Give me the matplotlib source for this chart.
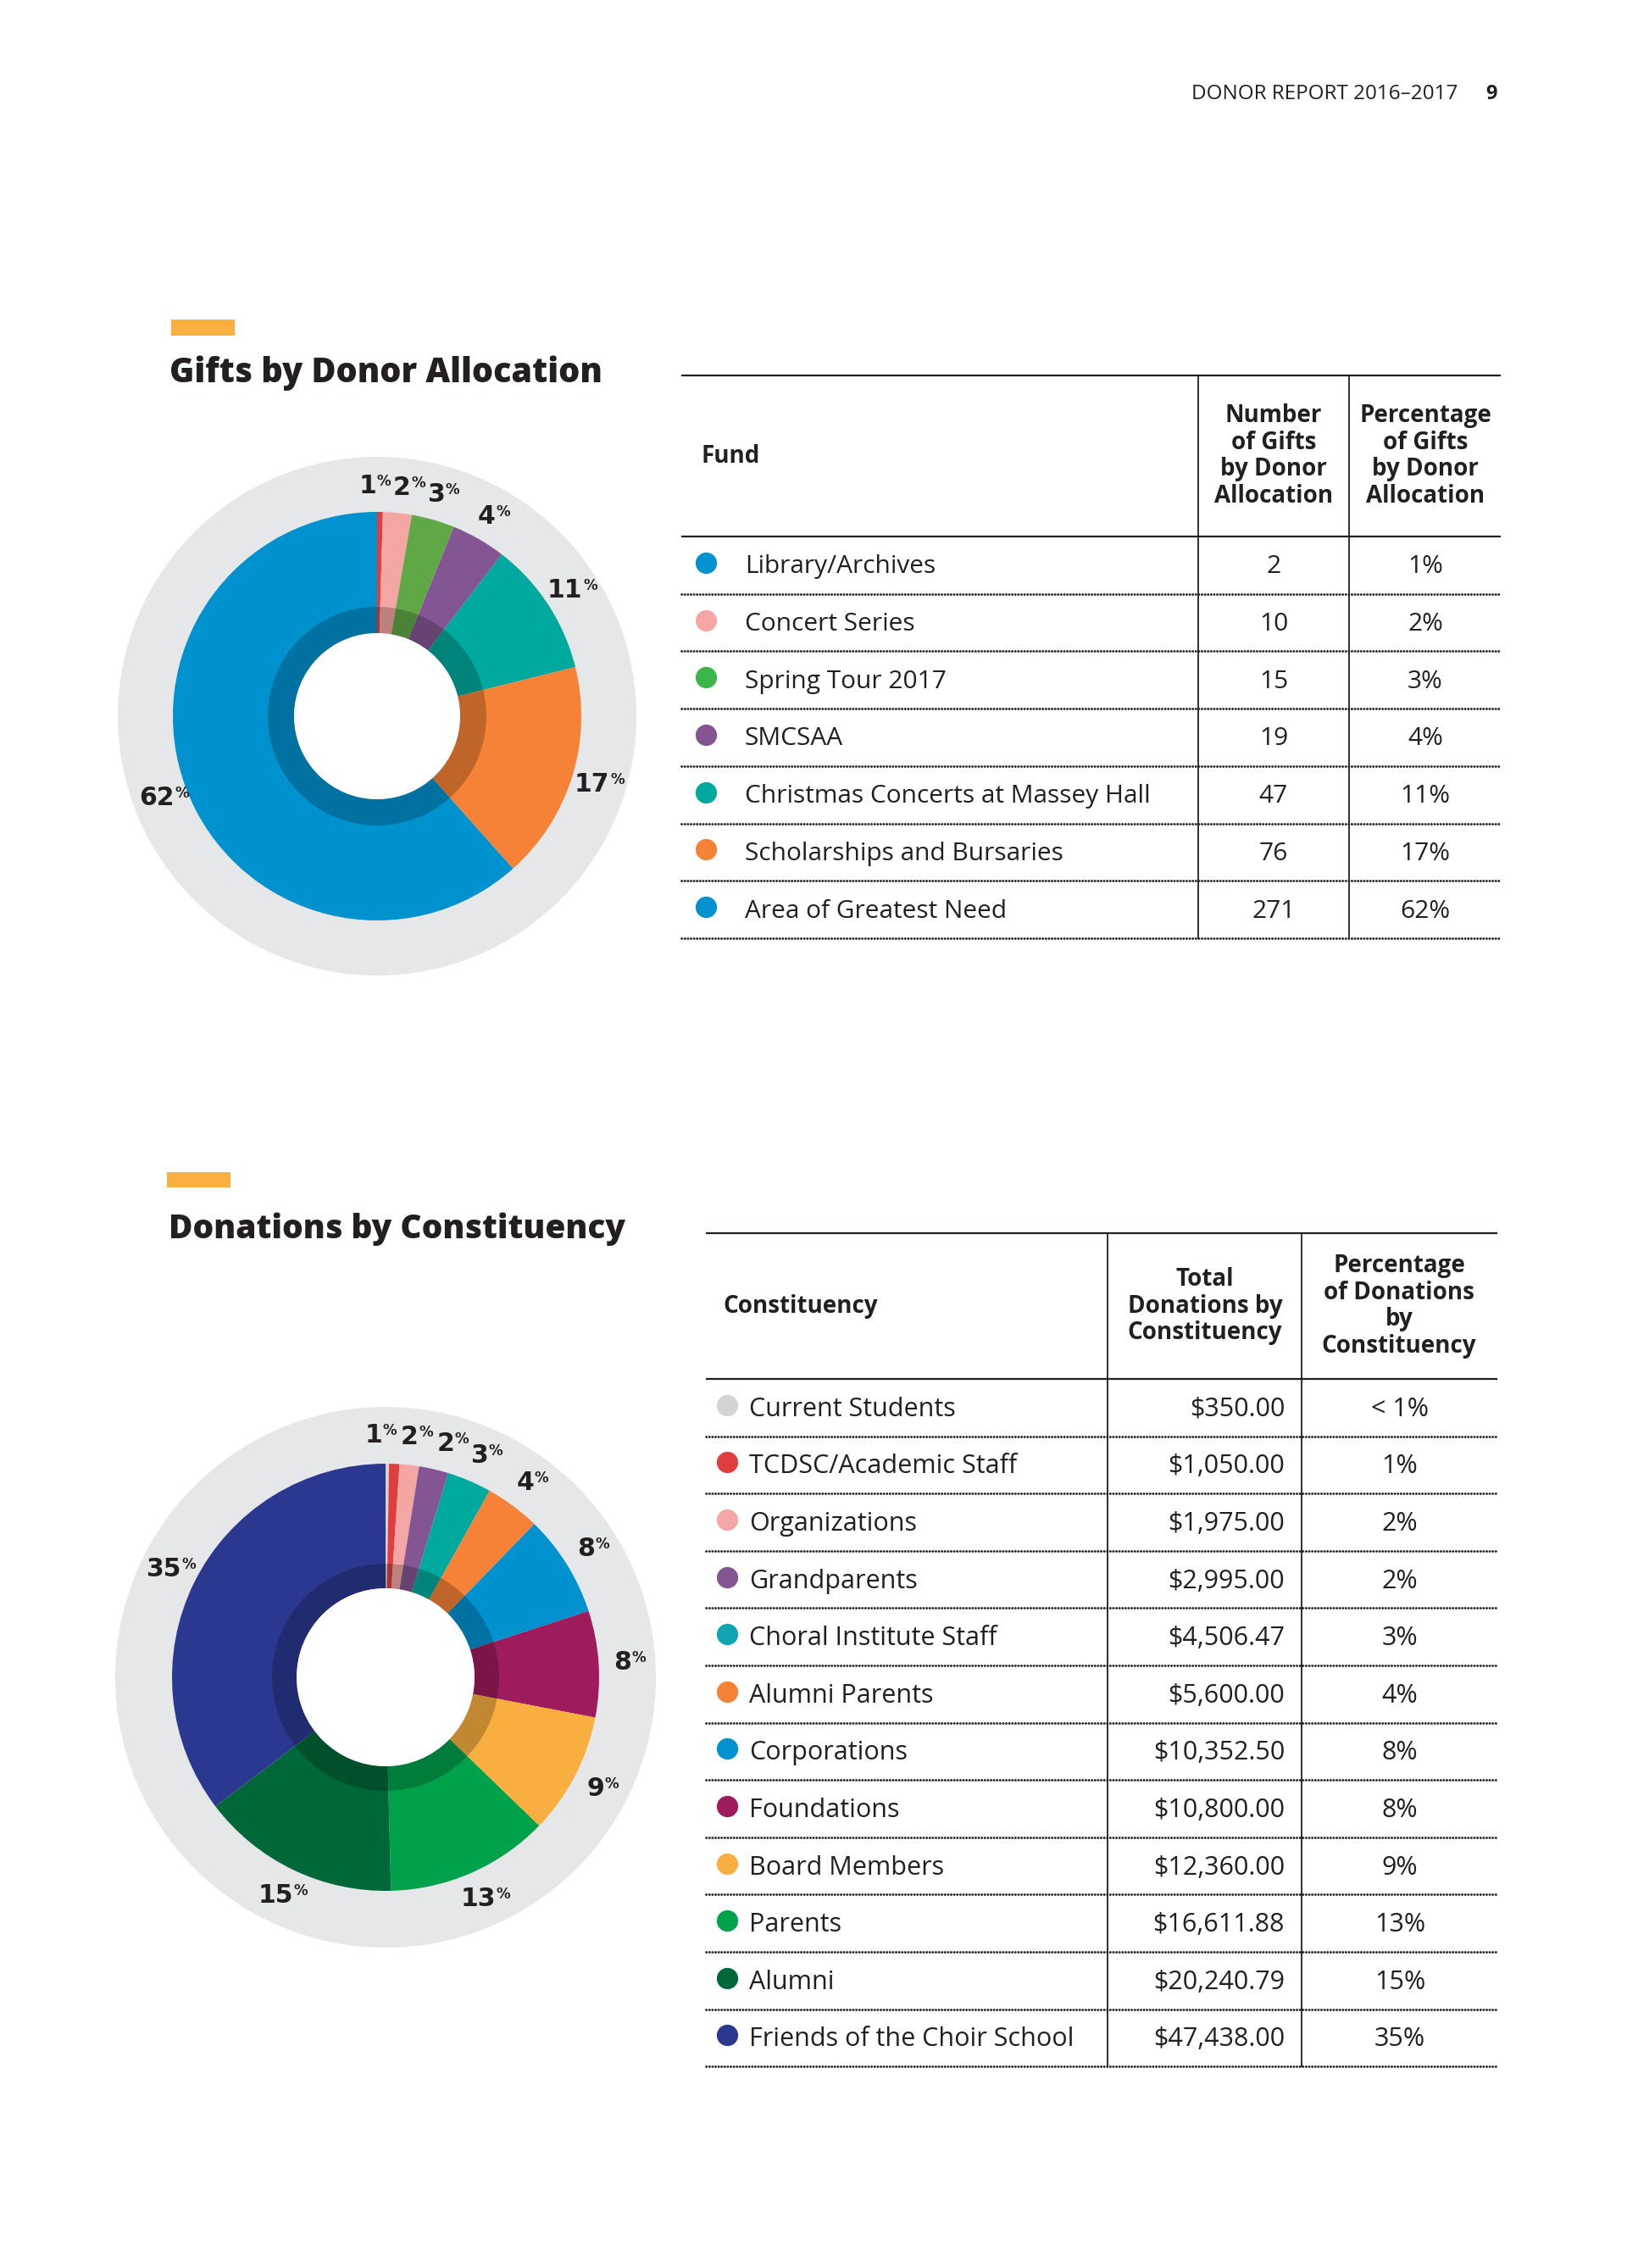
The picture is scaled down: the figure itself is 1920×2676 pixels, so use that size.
import numpy as np
import matplotlib
matplotlib.use('Agg')
import matplotlib.pyplot as plt
from matplotlib.patches import Circle, Wedge, Rectangle

plt.rcParams['font.family'] = ['Open Sans', 'DejaVu Sans']

W, H = 1920, 2676
INK = '#231f20'

# ---- data: gifts by donor allocation
fundNames = ['Library/Archives', 'Concert Series', 'Spring Tour 2017', 'SMCSAA',
             'Christmas Concerts at Massey Hall', 'Scholarships and Bursaries',
             'Area of Greatest Need']
fundGifts = [2, 10, 15, 19, 47, 76, 271]
fundPercents = ['1%', '2%', '3%', '4%', '11%', '17%', '62%']
fundColors = ['#e03e3e', '#f4a6a4', '#5fa845', '#835693', '#00a99d', '#f58236', '#0091cf']
fundDotColors = ['#0091cf', '#f4a6a4', '#3cb54a', '#835693', '#00a99d', '#f58236', '#0091cf']

# ---- data: donations by constituency
constNames = ['Current Students', 'TCDSC/Academic Staff', 'Organizations', 'Grandparents',
              'Choral Institute Staff', 'Alumni Parents', 'Corporations', 'Foundations',
              'Board Members', 'Parents', 'Alumni', 'Friends of the Choir School']
constAmounts = [350.00, 1050.00, 1975.00, 2995.00, 4506.47, 5600.00, 10352.50,
                10800.00, 12360.00, 16611.88, 20240.79, 47438.00]
constPercents = ['< 1%', '1%', '2%', '2%', '3%', '4%', '8%', '8%', '9%', '13%', '15%', '35%']
constColors = ['#d1d3d4', '#e03e3e', '#f4a6a4', '#835693', '#00a99d', '#f58236',
               '#0091cf', '#9e1b5c', '#f9ae40', '#00a14b', '#006838', '#2b388f']
constDotColors = ['#d1d3d4', '#e03e3e', '#f4a6a4', '#835693', '#10a4b4', '#f58236',
                  '#0091cf', '#9e1b5c', '#f9ae40', '#00a14b', '#006838', '#2b388f']


def spreadAngles(angles, minSep):
	# push neighbouring label angles apart until they are at least minSep degrees apart
	a = list(angles)
	for _ in range(300):
		moved = False
		for i in range(len(a) - 1):
			gap = a[i + 1] - a[i]
			if gap < minSep - 1e-6:
				d = (minSep - gap) / 2.0
				a[i] -= d
				a[i + 1] += d
				moved = True
		if not moved:
			break
	return a


def drawDonut(fig, cx, cy, rGray, rOuter, rHole, rDark, rLabel, values, colors, labels):
	R = rGray + 10
	ax = fig.add_axes([(cx - R) / W, 1 - (cy + R) / H, 2 * R / W, 2 * R / H])
	ax.add_patch(Circle((0, 0), rGray, facecolor='#e6e7e8', edgecolor='none', zorder=0))
	wedges, _ = ax.pie(values, colors=colors, radius=rOuter, startangle=90,
	                   counterclock=False,
	                   wedgeprops=dict(width=rOuter - rHole, linewidth=0))
	ax.add_patch(Circle((0, 0), rHole, facecolor='white', edgecolor='none'))
	ax.add_patch(Wedge((0, 0), rDark, 0, 360, width=rDark - rHole,
	                   facecolor='black', alpha=0.22, linewidth=0))

	# label angles measured clockwise from 12 o'clock
	shown = [(w, lab) for w, lab in zip(wedges, labels) if lab is not None]
	cw = [90.0 - (w.theta1 + w.theta2) / 2.0 for w, _ in shown]
	cw = spreadAngles(cw, 8.6)
	for a, (w, lab) in zip(cw, shown):
		ang = np.deg2rad(90.0 - a)
		t = ax.text(rLabel * np.cos(ang) - 6, rLabel * np.sin(ang), lab,
		            ha='center', va='center', fontsize=21.5, fontweight='bold',
		            family='DejaVu Sans', color=INK)
		ax.annotate('%', xy=(1.0, 1.0), xycoords=t, xytext=(0.5, 0),
		            textcoords='offset points', ha='left', va='top',
		            fontsize=12, fontweight='bold', family='DejaVu Sans', color=INK)
	ax.set_xlim(-R, R)
	ax.set_ylim(-R, R)
	ax.set_aspect('equal')
	ax.axis('off')
	return ax


def drawTable(ax, x0, x1, colX, yTop, yHead, rowH, headers, headerX, headerHa,
              names, dotColors, col2, col2X, col2Ha, col3, col3X, dotX, nameX, fs):
	n = len(names)
	yEnd = yHead + n * rowH
	ax.plot([x0, x1], [yTop, yTop], color=INK, lw=1.6, solid_capstyle='butt')
	ax.plot([x0, x1], [yHead, yHead], color=INK, lw=1.6, solid_capstyle='butt')
	for cx in colX:
		ax.plot([cx, cx], [yTop, yEnd], color=INK, lw=1.3)
	yMidHead = (yTop + yHead) / 2.0
	for txt, hx, ha in zip(headers, headerX, headerHa):
		ax.text(hx, yMidHead, txt, ha=ha, va='center', fontsize=20, fontweight='bold',
		        color=INK, linespacing=1.12, multialignment='center')
	for i in range(n):
		yc = yHead + (i + 0.5) * rowH + 2
		yl = yHead + (i + 1) * rowH
		ax.plot([x0, x1], [yl, yl], color=INK, lw=2.0, linestyle=(0, (0.1, 1.2)),
		        dash_capstyle='round')
		ax.scatter([dotX], [yc - 5], s=330, color=dotColors[i], linewidths=0)
		ax.text(nameX, yc, names[i], ha='left', va='center', fontsize=fs, color=INK)
		ax.text(col2X, yc, col2[i], ha=col2Ha, va='center', fontsize=fs, color=INK)
		ax.text(col3X, yc, col3[i], ha='center', va='center', fontsize=fs, color=INK)


fig = plt.figure(figsize=(W / 100.0, H / 100.0), dpi=100)
lay = fig.add_axes([0, 0, 1, 1])
lay.set_xlim(0, W)
lay.set_ylim(H, 0)
lay.axis('off')

# page header
lay.text(1720, 111, 'DONOR REPORT 2016\u20132017', ha='right', va='center', fontsize=17.5, color=INK)
lay.text(1767, 111, '9', ha='right', va='center', fontsize=17, fontweight='bold', color=INK)

# section 1
lay.add_patch(Rectangle((202, 377), 75, 19, facecolor='#f9b040', edgecolor='none'))
lay.text(200, 440, 'Gifts by Donor Allocation', ha='left', va='center', fontsize=28.5,
         fontweight='heavy', color=INK)
drawTable(lay, 804, 1771, [1414, 1592], 443, 633, 67.7,
          ['Fund', 'Number\nof Gifts\nby Donor\nAllocation', 'Percentage\nof Gifts\nby Donor\nAllocation'],
          [827, 1503, 1682], ['left', 'center', 'center'],
          fundNames, fundDotColors, [str(g) for g in fundGifts], 1503, 'center',
          fundPercents, 1682, 833, 879, 21.5)
drawDonut(fig, 445, 845, 306, 241, 98, 129, 272, fundGifts, fundColors,
          [p.rstrip('%') for p in fundPercents])

# section 2
lay.add_patch(Rectangle((197, 1383), 75, 18, facecolor='#f9b040', edgecolor='none'))
lay.text(199, 1450, 'Donations by Constituency', ha='left', va='center', fontsize=28,
         fontweight='heavy', color=INK)
drawTable(lay, 833, 1767, [1307, 1536], 1455, 1627, 67.6,
          ['Constituency', 'Total\nDonations by\nConstituency', 'Percentage\nof Donations\nby\nConstituency'],
          [853, 1422, 1651], ['left', 'center', 'center'],
          constNames, constDotColors, ['${:,.2f}'.format(a) for a in constAmounts], 1516, 'right',
          constPercents, 1652, 858, 884, 22)
drawDonut(fig, 455, 1979, 319, 252, 105, 134, 286, constAmounts, constColors,
          [None if p.startswith('<') else p.rstrip('%') for p in constPercents])

fig.savefig('out.png', dpi=100, facecolor='white')
